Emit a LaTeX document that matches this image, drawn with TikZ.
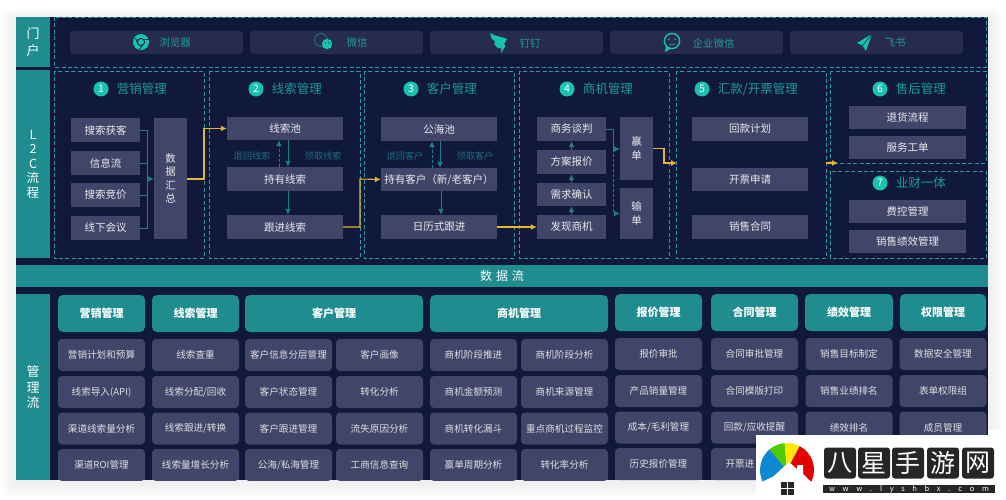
\documentclass[tikz,border=0pt]{standalone}
\usepackage{fontspec}
\setmainfont{Noto Sans CJK SC}
\usepackage{xcolor}
\usetikzlibrary{arrows.meta,positioning}

\definecolor{navybg}{HTML}{10183B}
\definecolor{boxgray}{HTML}{41456A}
\definecolor{portalgray}{HTML}{272B4D}
\definecolor{tealbar}{HTML}{1F8C90}
\definecolor{tealtext}{HTML}{1B9A9A}
\definecolor{tealdim}{HTML}{1C6F80}
\definecolor{tealline}{HTML}{1F7F8E}
\definecolor{dashteal}{HTML}{2E9AA6}
\definecolor{mint}{HTML}{18C3AE}
\definecolor{flowgold}{HTML}{E5B62B}

\tikzset{
	flowbox/.style={fill=boxgray, text=white!92!black, inner sep=0pt, align=center, font=\fontsize{10.5}{13.5}\selectfont},
	portalbtn/.style={fill=portalgray, rounded corners=3pt, minimum width=173, minimum height=23},
	portaltext/.style={text=tealtext, inner sep=0pt, font=\fontsize{10.5}{12}\selectfont},
	tabtext/.style={text=white, inner sep=0pt, align=center, font=\fontsize{12.5}{14.5}\selectfont},
	numdot/.style={circle, fill=mint, text=white, inner sep=0pt, minimum size=15, font=\fontsize{10.5}{12}\selectfont},
	headtext/.style={text=tealtext, inner sep=0pt, font=\fontsize{12.5}{15}\selectfont},
	dimtext/.style={text=tealdim, inner sep=0pt, font=\fontsize{9.2}{11}\selectfont},
	dashframe/.style={draw=dashteal, dashed, dash pattern=on 4pt off 2.4pt, line width=0.8pt},
	goldline/.style={draw=flowgold, line width=1.1pt, -{Latex[length=6pt,width=6pt]}},
	tealarrow/.style={draw=tealline, line width=0.9pt, -{Latex[length=6pt,width=6pt]}},
	tealdash/.style={tealarrow, densely dashed},
	mgmthead/.style={fill=tealbar, text=white, rounded corners=5pt, minimum height=37, inner sep=0pt, font=\fontsize{11}{13}\selectfont\bfseries},
	mgmtitem/.style={fill=boxgray, text=white!88!black, rounded corners=4pt, minimum width=87, minimum height=32, inner sep=0pt, font=\fontsize{9.6}{12}\selectfont},
}

\begin{document}
\begin{tikzpicture}[x=1pt,y=-1pt]

	\useasboundingbox (0,0) rectangle (1006,500);
	\fill[white] (0,0) rectangle (1006,500);

	% soft shadow round the sheet
	\foreach \s in {2,4,...,16} {
		\fill[black, opacity=0.009, rounded corners=8pt] (16-\s,17-\s/2) rectangle (988+\s,482+\s);
	}

	\fill[navybg] (16,17) rectangle (988,480);

	% left tabs and the data bar
	\fill[tealbar] (16,17) rectangle (50,67);
	\fill[tealbar] (16,70) rectangle (50,258);
	\fill[tealbar] (16,294) rectangle (50,480);
	\node[tabtext, font=\fontsize{13}{16.5}\selectfont] (tabPortal) at (33,42) {门\\户};
	\node[tabtext] (tabLtc) at (33,164) {L\\2\\C\\流\\程};
	\node[tabtext, font=\fontsize{13}{15.5}\selectfont] (tabMgmt) at (33,387.5) {管\\理\\流};
	\node[fill=tealbar, minimum width=972, minimum height=22, inner sep=0pt] (dataBar) at (502,276) {};
	\node[text=white, inner sep=0pt, font=\fontsize{12}{14}\selectfont] (dataText) at (dataBar) {\spaceskip=4pt 数 据 流};

	% portal row
	\draw[dashframe] (54,17) rectangle (986,67);
	\foreach \n/\x/\tx/\t in {a/156.5/175/浏览器, b/336.5/357/微信, c/516.5/530/钉钉, d/696.5/713.5/企业微信, e/876.5/895/飞书} {
		\node[portalbtn] (portal\n) at (\x,42.5) {};
		\node[portaltext] (portalText\n) at (\tx,43) {\t};
	}

	% portal icons
	\fill[mint] (141,42) circle (8pt);
	\draw[navybg, line width=0.9pt] (141,42) circle (3.6pt);
	\draw[navybg, line width=0.7pt] (144.5,39.5) -- (148.6,39.5) (138,44) -- (135.5,38) (142.5,45.5) -- (139,49.8);
	\draw[tealline, line width=0.8pt] (321,40) circle (6.5pt);
	\fill[mint] (327,44) circle (5.2pt);
	\fill[navybg] (325.2,43) circle (0.7pt) (328.8,43) circle (0.7pt);
	\fill[mint] (490,33) .. controls (497,37) and (503,37) .. (507,39) -- (504,44) -- (505.5,46) -- (501,53) -- (501.5,48.5) -- (497,47.5) -- (494,43.5) -- (495.5,42) -- (491.5,38.5) -- cycle;
	\draw[mint, line width=1.4pt] (672,41) circle (7.6pt);
	\fill[mint] (666,46) -- (665,52) -- (671,48.5) -- cycle;
	\fill[mint] (669,39.5) circle (0.9pt) (675,39.5) circle (0.9pt);
	\draw[mint, line width=0.6pt] (669,44) .. controls (671,45.5) and (673,45.5) .. (675,44);
	\fill[mint] (872,34) -- (857,43) -- (862.5,45.5) -- (866,51) -- cycle;
	\draw[navybg, line width=0.5pt] (872,34) -- (862.5,45.5);

	% L2C frames
	\draw[dashframe] (54,71) rectangle (204,258);
	\draw[dashframe] (209,71) rectangle (360,258);
	\draw[dashframe] (364,71) rectangle (514,258);
	\draw[dashframe] (519,71) rectangle (669,258);
	\draw[dashframe] (676,71) rectangle (826,258);
	\draw[dashframe] (830,71) rectangle (986,163);
	\draw[dashframe] (830,171) rectangle (986,258);

	% section titles
	\foreach \i/\x/\y/\t in {1/101/89/营销管理, 2/256/89/线索管理, 3/411/89/客户管理, 4/567/89/商机管理, 5/702/89/{汇款/开票管理}, 6/880/89/售后管理, 7/880/183/业财一体} {
		\node[numdot] (num\i) at (\x,\y) {\i};
		\node[headtext, right=8pt of num\i] (title\i) {\t};
	}

	% marketing
	\node[flowbox, minimum width=69, minimum height=24] (mkSearch) at (105.5,130) {搜索获客};
	\node[flowbox, minimum width=69, minimum height=24] (mkFeed) at (105.5,163) {信息流};
	\node[flowbox, minimum width=69, minimum height=24] (mkBid) at (105.5,195) {搜索竞价};
	\node[flowbox, minimum width=69, minimum height=24] (mkOffline) at (105.5,228) {线下会议};
	\node[flowbox, minimum width=33, minimum height=121] (mkData) at (170.5,178.5) {数\\据\\汇\\总};
	\coordinate (mkJoin) at (147,179);
	\draw[tealline, line width=0.7pt] (mkSearch.east) -- (mkJoin |- mkSearch.east) -- (mkJoin |- mkOffline.east) -- (mkOffline.east);
	\draw[tealline, line width=0.7pt] (mkFeed.east) -- (mkJoin |- mkFeed.east);
	\draw[tealline, line width=0.7pt] (mkBid.east) -- (mkJoin |- mkBid.east);
	\draw[tealarrow] (mkJoin) -- (mkJoin -| mkData.west);

	% leads
	\node[flowbox, minimum width=116, minimum height=23] (ldPool) at (285,128.5) {线索池};
	\node[flowbox, minimum width=116, minimum height=24] (ldHold) at (285,179) {持有线索};
	\node[flowbox, minimum width=116, minimum height=24] (ldFollow) at (285,227) {跟进线索};
	\node[dimtext] (ldBack) at (252,156) {退回线索};
	\node[dimtext] (ldTake) at (323,156) {领取线索};
	\draw[tealdash] ([xshift=-6pt]ldHold.north) -- ([xshift=-6pt]ldPool.south);
	\draw[tealarrow] ([xshift=3pt]ldPool.south) -- ([xshift=3pt]ldHold.north);
	\draw[tealarrow] ([xshift=3pt]ldHold.south) -- ([xshift=3pt]ldFollow.north);

	% customers
	\node[flowbox, minimum width=116, minimum height=24] (csPool) at (439,129) {公海池};
	\node[flowbox, minimum width=116, minimum height=23] (csHold) at (439,179.5) {持有客户（新/老客户）};
	\node[flowbox, minimum width=116, minimum height=24] (csPlan) at (439,227) {日历式跟进};
	\node[dimtext] (csBack) at (405,156) {退回客户};
	\node[dimtext] (csTake) at (475,156) {领取客户};
	\draw[tealdash] ([xshift=-7pt]csHold.north) -- ([xshift=-7pt]csPool.south);
	\draw[tealarrow] ([xshift=1pt]csPool.south) -- ([xshift=1pt]csHold.north);
	\draw[tealarrow] ([xshift=2pt]csHold.south) -- ([xshift=2pt]csPlan.north);

	% opportunities
	\node[flowbox, minimum width=69, minimum height=24] (opTalk) at (571.5,129) {商务谈判};
	\node[flowbox, minimum width=69, minimum height=24] (opQuote) at (571.5,162) {方案报价};
	\node[flowbox, minimum width=69, minimum height=23] (opNeed) at (571.5,194.5) {需求确认};
	\node[flowbox, minimum width=69, minimum height=24] (opFind) at (571.5,227) {发现商机};
	\node[flowbox, minimum width=33, minimum height=63] (opWin) at (636.5,148.5) {赢\\单};
	\node[flowbox, minimum width=33, minimum height=51] (opLose) at (636.5,213.5) {输\\单};
	\foreach \a/\b in {opFind/opNeed, opNeed/opQuote, opQuote/opTalk} {
		\draw[tealarrow] (\a.north) -- (\b.south);
	}
	\coordinate (opJoin) at (613,149);
	\draw[tealarrow] (opTalk.east) -- (opJoin |- opTalk.east) -- (opJoin) -- (opJoin -| opWin.west);
	\draw[tealdash] (opJoin) -- (opJoin |- opLose.center) -- (opLose.west);

	% payment and invoices
	\node[flowbox, minimum width=116, minimum height=24] (payPlan) at (750,129) {回款计划};
	\node[flowbox, minimum width=116, minimum height=23] (payBill) at (750,179.5) {开票申请};
	\node[flowbox, minimum width=116, minimum height=24] (payDeal) at (750,227) {销售合同};

	% after sales and finance
	\node[flowbox, minimum width=117, minimum height=23] (asReturn) at (907.5,117.5) {退货流程};
	\node[flowbox, minimum width=117, minimum height=23] (asTicket) at (907.5,147.5) {服务工单};
	\node[flowbox, minimum width=117, minimum height=23] (fiCost) at (907.5,211.5) {费控管理};
	\node[flowbox, minimum width=117, minimum height=23] (fiPerf) at (907.5,241.5) {销售绩效管理};

	% gold flow between the stages
	\coordinate (gapA) at (204,179);
	\coordinate (gapB) at (360,179);
	\coordinate (gapC) at (664,163);
	\coordinate (gapD) at (826,163);
	\coordinate (gapE) at (838,163);
	\coordinate (gapF) at (677,163);
	\draw[goldline] (mkData.east |- gapA) -- (gapA) -- (gapA |- ldPool.west) -- (ldPool.west);
	\draw[goldline] (ldFollow.east) -- (gapB |- ldFollow.east) -- (gapB) -- (csHold.west);
	\draw[goldline] (csPlan.east) -- (opFind.west);
	\draw[goldline] (opWin.east) -- (gapC |- opWin.east) -- (gapC) -- (gapF);
	\draw[goldline] (gapD) -- (gapE);

	% management flow
	\begin{scope}
		\clip (16,290) rectangle (988,480);
		\foreach \n/\hx/\hy/\hw/\t in {a/101.5/313.5/87/营销管理, b/195.5/313.5/87/线索管理, c/334/313.5/178/客户管理, d/519/313.5/178/商机管理, e/658.5/312.5/87/报价管理, f/754.5/312.5/87/合同管理, g/849/312.5/88/绩效管理, h/943/312.5/86/权限管理} {
			\node[mgmthead, minimum width=\hw] (head\n) at (\hx,\hy) {\t};
		}
		\foreach \n/\cx/\dy/\ta/\tb/\tc/\td in {
			a/101.5/0/营销计划和预算/线索导入(API)/渠道线索量分析/渠道ROI管理,
			b/195.5/0/线索查重/{线索分配/回收}/{线索跟进/转换}/线索量增长分析,
			c/288.5/0/客户信息分层管理/客户状态管理/客户跟进管理/{公海/私海管理},
			i/379.5/0/客户画像/转化分析/流失原因分析/工商信息查询,
			d/473.5/0/商机阶段推进/商机金额预测/商机转化漏斗/赢单周期分析,
			j/564.5/0/商机阶段分析/商机来源管理/重点商机过程监控/转化率分析,
			e/658.5/1/报价审批/产品销量管理/{成本/毛利管理}/历史报价管理,
			f/754.5/1/合同审批管理/合同模版打印/{回款/应收提醒}/{\makebox[58pt][l]{开票进}},
			g/849/1/销售目标制定/销售业绩排名/绩效排名/{},
			h/943/1/数据安全管理/表单权限组/成员管理/{}} {
			\fill[boxgray] (\cx-43.5,472) rectangle (\cx+43.5,480);
			\foreach \r/\ry/\t in {1/355/\ta, 2/392/\tb, 3/428.5/\tc, 4/465/\td} {
				\node[mgmtitem] (item\n\r) at (\cx,\ry-\dy) {\t};
			}
		}
	\end{scope}

	% site mark in the corner
	\fill[white] (756,435) rectangle (1006,500);
	\fill[white] (988,430) rectangle (1006,435);
	\fill[cyan!70!blue] (787,470) -- +(205:27pt) arc[start angle=205, end angle=130, radius=27pt] -- cycle;
	\fill[green!55!olive!90!yellow] (787,470) -- +(130:27pt) arc[start angle=130, end angle=95, radius=27pt] -- cycle;
	\fill[yellow!90!orange] (787,470) -- +(95:27pt) arc[start angle=95, end angle=62, radius=27pt] -- cycle;
	\fill[red!90!black] (787,470) -- +(62:27pt) arc[start angle=62, end angle=-25, radius=27pt] -- cycle;
	\fill[white] (760,489) -- (789,462) -- (797,469) -- (797,465) -- (803,465) -- (803,474) -- (816,487) -- (816,500) -- (760,500) -- cycle;
	\foreach \x/\y in {781/482, 788/482, 781/489, 788/489} {
		\fill[black!85] (\x,\y) rectangle ++(6,6);
	}
	\foreach \n/\x/\t in {a/840/八, b/874/星, c/908/手, d/943/游, e/978/网} {
		\node[fill=black!85, text=white, rounded corners=3pt, minimum width=32, minimum height=31, inner sep=0pt, font=\fontsize{25}{27}\selectfont] (mark\n) at (\x,463) {\t};
	}
	\node[fill=black!85, text=white, minimum width=172, minimum height=8, inner sep=0pt, font=\fontsize{7.5}{8}\selectfont] (markUrl) at (909,489) {\spaceskip=7.6pt w w w . l y s h b x . c o m};

\end{tikzpicture}
\end{document}
